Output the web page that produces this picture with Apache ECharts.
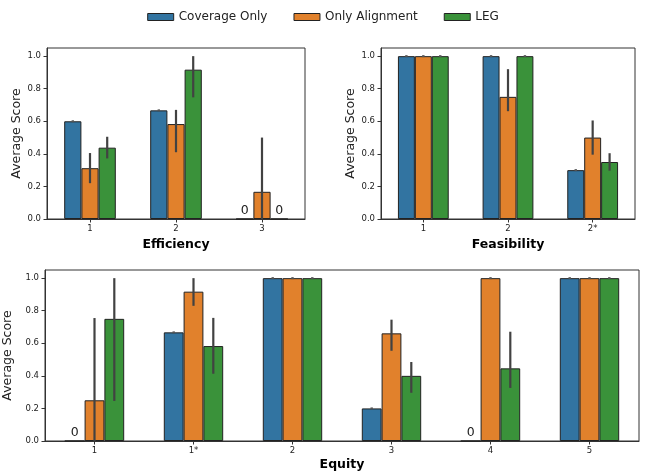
<!DOCTYPE html>
<html><head><meta charset="utf-8">
<script src="https://cdn.jsdelivr.net/npm/echarts@6/dist/echarts.min.js"></script>
<style>html,body{margin:0;padding:0;background:#fff}#c{width:646px;height:473px}</style>
</head><body><div id="c"></div>
<script>
const seriesNames = ['Coverage Only', 'Only Alignment', 'LEG'];
const colors = ['#3274a1', '#e1812c', '#3a923a'];
const yTicks = [0, 0.2, 0.4, 0.6, 0.8, 1.0];

// Efficiency
const effCats = ['1', '2', '3'];
const effCov = [0.6, 0.667, 0];
const effAli = [0.312, 0.583, 0.167];
const effLeg = [0.438, 0.917, 0];
const effCovErr = [[0.6, 0.6], [0.667, 0.667], null];
const effAliErr = [[0.22, 0.405], [0.41, 0.67], [0, 0.5]];
const effLegErr = [[0.372, 0.505], [0.747, 1.0], null];

// Feasibility
const feaCats = ['1', '2', '2*'];
const feaCov = [1.0, 1.0, 0.3];
const feaAli = [1.0, 0.75, 0.5];
const feaLeg = [1.0, 1.0, 0.35];
const feaCovErr = [[1, 1], [1, 1], [0.3, 0.3]];
const feaAliErr = [[1, 1], [0.662, 0.92], [0.395, 0.605]];
const feaLegErr = [[1, 1], [1, 1], [0.297, 0.404]];

// Equity
const equCats = ['1', '1*', '2', '3', '4', '5'];
const equCov = [0, 0.667, 1.0, 0.2, 0, 1.0];
const equAli = [0.25, 0.917, 1.0, 0.661, 1.0, 1.0];
const equLeg = [0.75, 0.583, 1.0, 0.4, 0.446, 1.0];
const equCovErr = [null, [0.667, 0.667], [1, 1], [0.2, 0.2], null, [1, 1]];
const equAliErr = [[0, 0.755], [0.83, 1.0], [1, 1], [0.554, 0.745], [1, 1], [1, 1]];
const equLegErr = [[0.246, 1.0], [0.413, 0.756], [1, 1], [0.296, 0.485], [0.326, 0.671], [1, 1]];

const FONT = 'DejaVu Sans';
const panels = [
  {cats: effCats, vals: [effCov, effAli, effLeg], errs: [effCovErr, effAliErr, effLegErr], name: 'Efficiency',
   grid: {left: 47, top: 48, width: 258, height: 171}, nameGap: 19},
  {cats: feaCats, vals: [feaCov, feaAli, feaLeg], errs: [feaCovErr, feaAliErr, feaLegErr], name: 'Feasibility',
   grid: {left: 381, top: 48, width: 254, height: 171}, nameGap: 19},
  {cats: equCats, vals: [equCov, equAli, equLeg], errs: [equCovErr, equAliErr, equLegErr], name: 'Equity',
   grid: {left: 45, top: 270, width: 594, height: 171}, nameGap: 17}
];

const grids = [], xAxes = [], yAxes = [], series = [];
panels.forEach((p, gi) => {
  grids.push(Object.assign({show: true, borderColor: '#333', borderWidth: 1, backgroundColor: '#fff',
    containLabel: false, outerBoundsMode: 'none'}, p.grid));
  xAxes.push({
    type: 'category', gridIndex: gi, data: p.cats,
    name: p.name, nameLocation: 'middle', nameGap: p.nameGap,
    nameTextStyle: {fontFamily: FONT, fontSize: 12.5, fontWeight: 'bold', color: '#000'},
    axisLine: {show: true, lineStyle: {color: '#333', width: 1}},
    axisTick: {show: true, alignWithLabel: true, length: 3.5, lineStyle: {color: '#333'}},
    axisLabel: {fontFamily: FONT, fontSize: 8.5, color: '#222', margin: 5}
  });
  yAxes.push({
    type: 'value', gridIndex: gi, min: 0, max: 1.05, interval: 0.2,
    name: 'Average Score', nameLocation: 'middle', nameGap: 24,
    nameTextStyle: {fontFamily: FONT, fontSize: 12.5, color: '#222'},
    splitLine: {show: false},
    axisLine: {show: true, lineStyle: {color: '#333', width: 1}},
    axisTick: {show: true, length: 3.5, lineStyle: {color: '#333'}},
    axisLabel: {fontFamily: FONT, fontSize: 8.5, color: '#222', margin: 6, showMaxLabel: false,
      formatter: v => yTicks.some(t => Math.abs(t - v) < 1e-6) ? v.toFixed(1) : ''}
  });
  p.vals.forEach((vals, si) => {
    series.push({
      type: 'bar', name: seriesNames[si], xAxisIndex: gi, yAxisIndex: gi,
      barWidth: '20%', barGap: '0%',
      itemStyle: {color: colors[si], borderColor: '#222', borderWidth: 1},
      data: vals.map(v => ({value: v, label: {show: v === 0}})),
      label: {position: 'top', formatter: '0', fontFamily: FONT, fontSize: 12.5, color: '#222', distance: 1},
      z: 2
    });
  });
  const errData = [];
  p.errs.forEach((arr, si) => arr.forEach((e, ci) => { if (e) errData.push([ci, e[0], e[1], si]); }));
  series.push({
    type: 'custom', xAxisIndex: gi, yAxisIndex: gi, z: 5, silent: true,
    data: errData,
    renderItem: (params, api) => {
      const band = api.size([1, 0])[0];
      const ci = api.value(0), si = api.value(3);
      const x = api.coord([ci, 0])[0] + (si - 1) * band * 0.2;
      const y1 = api.coord([ci, api.value(1)])[1];
      const y2 = api.coord([ci, api.value(2)])[1];
      if (Math.abs(y1 - y2) < 1) {
        return {type: 'rect', shape: {x: x - 1.2, y: y1 - 1, width: 2.4, height: 2}, style: {fill: '#555'}};
      }
      return {type: 'line', shape: {x1: x, y1: y1, x2: x, y2: y2}, style: {stroke: '#424242', lineWidth: 2.2}};
    }
  });
});

const chart = echarts.init(document.getElementById('c'), null, {renderer: 'canvas'});
chart.setOption({
  animation: false,
  backgroundColor: '#fff',
  legend: {
    data: seriesNames, top: 6, left: 'center', icon: 'rect', itemWidth: 26, itemHeight: 7, itemGap: 26,
    textStyle: {fontFamily: FONT, fontSize: 12, color: '#222'},
    itemStyle: {borderColor: '#222', borderWidth: 1}
  },
  grid: grids, xAxis: xAxes, yAxis: yAxes, series: series
});
</script></body></html>
